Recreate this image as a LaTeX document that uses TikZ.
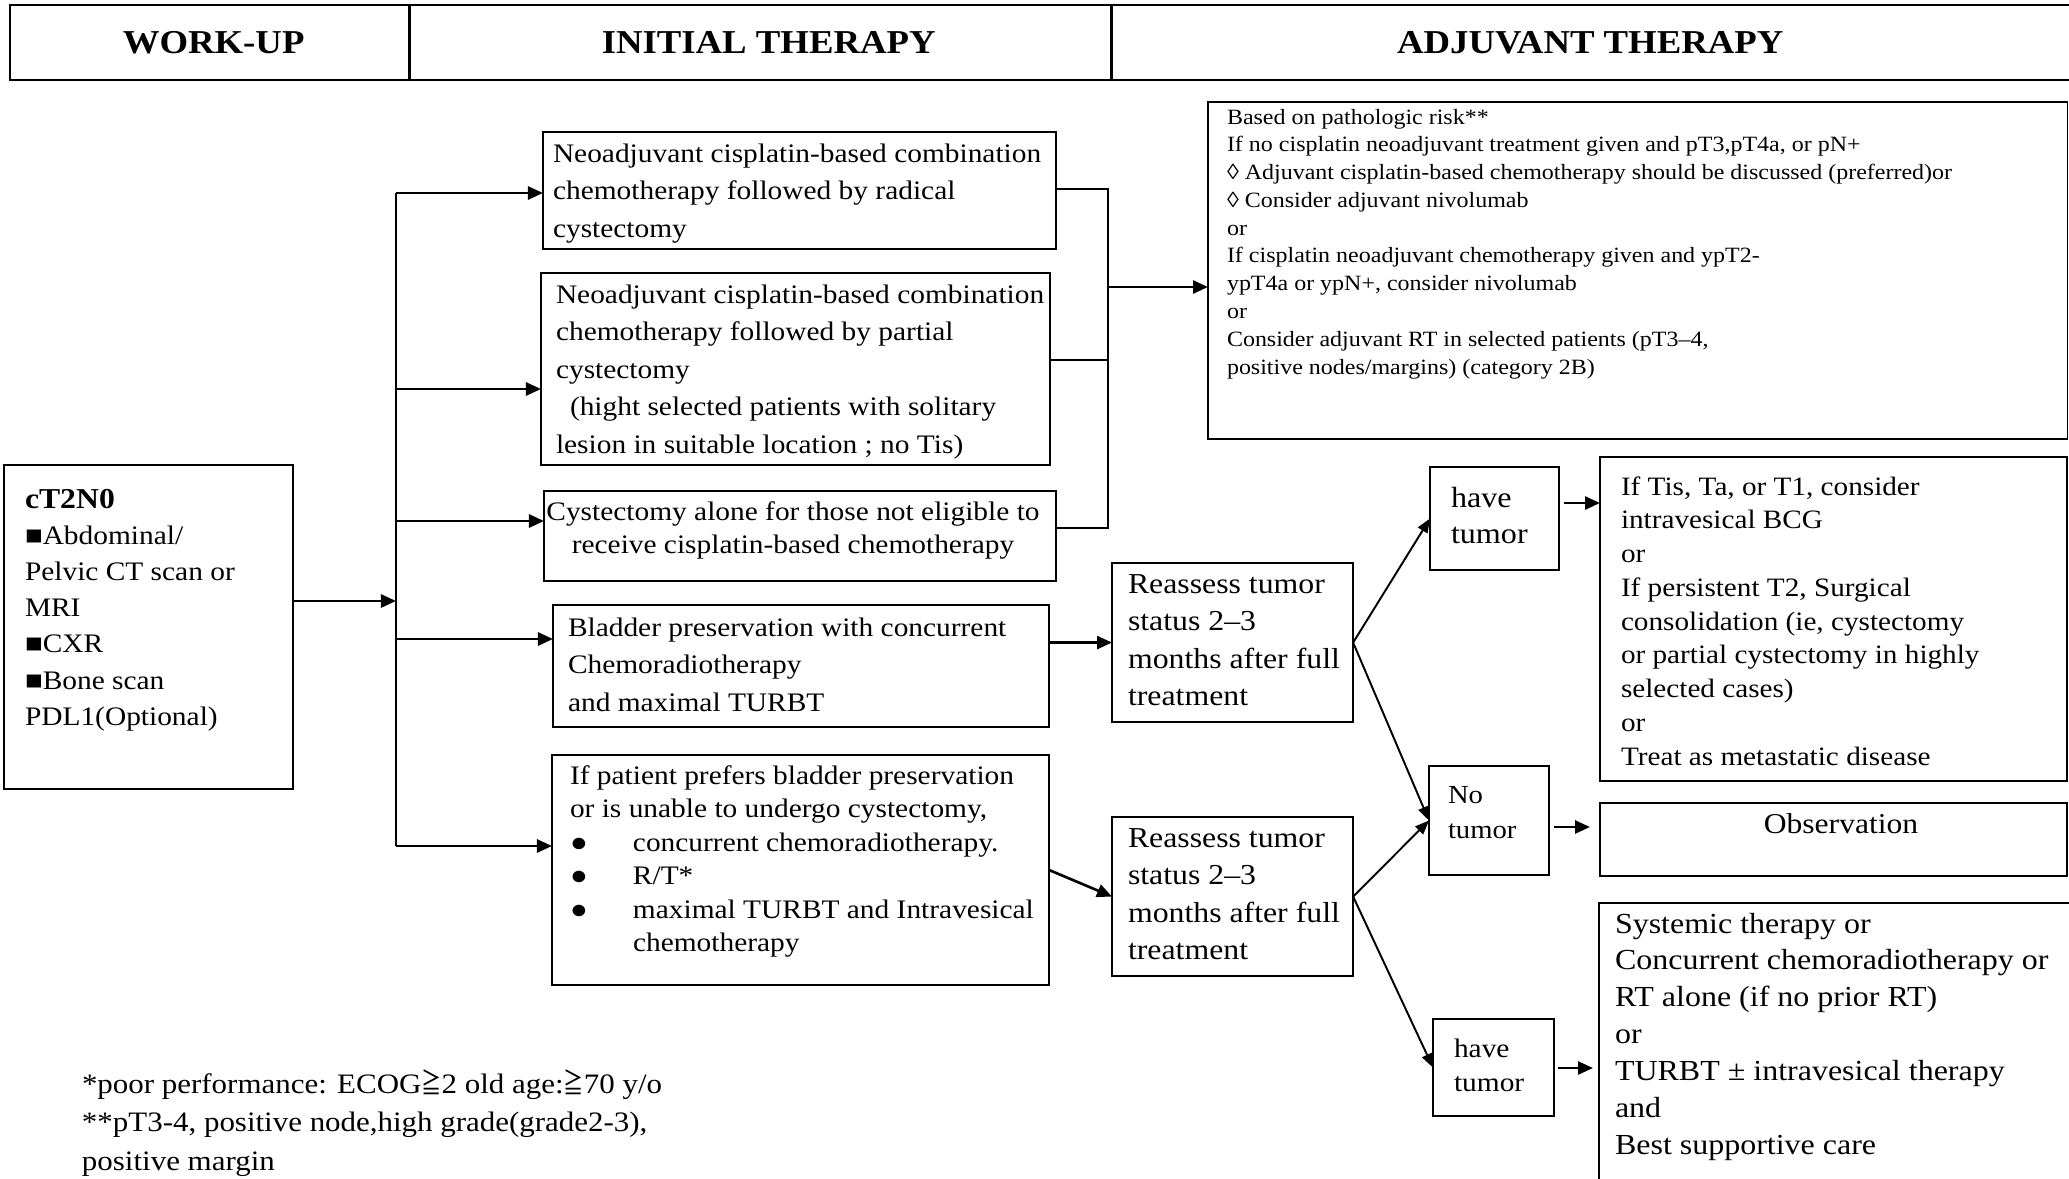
\documentclass[tikz,border=0pt]{standalone}
\usepackage{fontspec}
\setmainfont{Liberation Serif}[FakeStretch=1.1]
\newfontfamily\geqfont{Noto Sans CJK TC}
\usetikzlibrary{arrows.meta}
\newdimen\pxu \pxu=0.01cm
\newcommand\fs[2]{\fontsize{#1pt}{#2pt}\selectfont}
\newcommand\lines[1]{\begin{tabular}[t]{@{}l@{}}#1\end{tabular}}
\newcommand\clines[1]{\begin{tabular}[t]{@{}c@{}}#1\end{tabular}}
\newcommand\bul{\makebox[63\pxu][l]{●}}
\newcommand\geqsign{\scalebox{0.72}[1]{\geqfont ≧}}

\tikzset{
  frame/.style={draw, line width=0.55pt, inner sep=0pt, outer sep=0pt, anchor=north west},
  hdr/.style={draw, line width=0.8pt, inner sep=0pt, outer sep=0pt, anchor=north west,
              minimum height=0.75cm, font={\fs{9.5}{11}\bfseries}},
  txt/.style={inner sep=0pt, outer sep=0pt, anchor=base west},
  ctxt/.style={inner sep=0pt, outer sep=0pt, anchor=base},
  link/.style={line width=0.6pt},
  arr/.style={-{Triangle[length=0.15cm,width=0.13cm]}, line width=0.75pt},
  diag/.style={-{Triangle[length=0.14cm,width=0.11cm]}, line width=0.55pt}
}

\begin{document}
\begin{tikzpicture}[x=0.01cm, y=-0.01cm]
\fill[white] (0,0) rectangle (2069,1178);
\useasboundingbox (0,0) rectangle (2069,1178);

% column headings
\node[hdr, minimum width=3.99cm] (hw) at (10,5) {\hspace*{8\pxu}WORK-UP};
\node[hdr, minimum width=7.02cm] (hi) at (409,5) {\hspace*{17\pxu}INITIAL THERAPY};
\node[hdr, minimum width=9.64cm] (ha) at (1111,5) {ADJUVANT THERAPY\hspace*{6\pxu}};

% frames
\node[frame, minimum width=2.89cm, minimum height=3.24cm] (W)   at (4,465) {};
\node[frame, minimum width=5.13cm, minimum height=1.17cm] (A)   at (543,132) {};
\node[frame, minimum width=5.09cm, minimum height=1.92cm] (B)   at (541,273) {};
\node[frame, minimum width=5.12cm, minimum height=0.90cm] (C)   at (544,491) {};
\node[frame, minimum width=4.96cm, minimum height=1.22cm] (D)   at (553,605) {};
\node[frame, minimum width=4.97cm, minimum height=2.30cm] (E)   at (552,755) {};
\node[frame, minimum width=8.59cm, minimum height=3.37cm] (Adj) at (1208,102) {};
\node[frame, minimum width=2.41cm, minimum height=1.59cm] (R1)  at (1112,563) {};
\node[frame, minimum width=2.41cm, minimum height=1.59cm] (R2)  at (1112,817) {};
\node[frame, minimum width=1.29cm, minimum height=1.03cm] (H1)  at (1430,467) {};
\node[frame, minimum width=1.20cm, minimum height=1.09cm] (N)   at (1429,766) {};
\node[frame, minimum width=1.21cm, minimum height=0.97cm] (H2)  at (1433,1019) {};
\node[frame, minimum width=4.67cm, minimum height=3.24cm] (T1)  at (1600,457) {};
\node[frame, minimum width=4.67cm, minimum height=0.73cm] (Obs) at (1600,803) {};
\node[frame, minimum width=4.76cm, minimum height=2.90cm] (Sys) at (1599,903) {};

% texts
\node[txt, font=\fs{7.6}{10.3}] (Wt) at (25,508) {\lines{%
  {\fs{8.2}{10.3}\bfseries cT2N0}\\
  ■Abdominal/\\
  Pelvic CT scan or\\
  MRI\\
  ■CXR\\
  ■Bone scan\\
  PDL1(Optional)}};

\node[txt, font=\fs{7.6}{10.7}] (At) at (553,162) {\lines{%
  Neoadjuvant cisplatin-based combination\\
  chemotherapy followed by radical\\
  cystectomy}};

\node[txt, font=\fs{7.6}{10.7}] (Bt) at (556,303) {\lines{%
  Neoadjuvant cisplatin-based combination\\
  chemotherapy followed by partial\\
  cystectomy\\
  \hspace*{14\pxu}(hight selected patients with solitary\\
  lesion in suitable location ; no Tis)}};

\node[ctxt, font=\fs{7.6}{9.6}] (Ct) at (793,520) {\clines{%
  Cystectomy alone for those not eligible to\\
  receive cisplatin-based chemotherapy}};

\node[txt, font=\fs{7.6}{10.8}] (Dt) at (568,636) {\lines{%
  Bladder preservation with concurrent\\
  Chemoradiotherapy\\
  and maximal TURBT}};

\node[txt, font=\fs{7.6}{9.55}] (Et) at (570,784) {\lines{%
  If patient prefers bladder preservation\\
  or is unable to undergo cystectomy,\\
  \bul concurrent chemoradiotherapy.\\
  \bul R/T*\\
  \bul maximal TURBT and Intravesical\\
  \hspace*{63\pxu}chemotherapy}};

\node[txt, font=\fs{6.2}{7.9}] (Adjt) at (1227,124) {\lines{%
  Based on pathologic risk**\\
  If no cisplatin neoadjuvant treatment given and pT3,pT4a, or pN+\\
  ◊ Adjuvant cisplatin-based chemotherapy should be discussed (preferred)or\\
  ◊ Consider adjuvant nivolumab\\
  or\\
  If cisplatin neoadjuvant chemotherapy given and ypT2-\\
  ypT4a or ypN+, consider nivolumab\\
  or\\
  Consider adjuvant RT in selected patients (pT3–4,\\
  positive nodes/margins) (category 2B)}};

\node[txt, font=\fs{8.22}{10.7}] (R1t) at (1128,593) {\lines{%
  Reassess tumor\\ status 2–3\\ months after full\\ treatment}};
\node[txt, font=\fs{8.22}{10.7}] (R2t) at (1128,847) {\lines{%
  Reassess tumor\\ status 2–3\\ months after full\\ treatment}};

\node[txt, font=\fs{8.3}{10.4}] (H1t) at (1451,507) {\lines{have\\ tumor}};
\node[txt, font=\fs{7.4}{10}]    (Nt)  at (1448,803) {\lines{No\\ tumor}};
\node[txt, font=\fs{7.6}{9.7}]   (H2t) at (1454,1057) {\lines{have\\ tumor}};

\node[txt, font=\fs{7.55}{9.6}] (T1t) at (1621,495) {\lines{%
  If Tis, Ta, or T1, consider\\
  intravesical BCG\\
  or\\
  If persistent T2, Surgical\\
  consolidation (ie, cystectomy\\
  or partial cystectomy in highly\\
  selected cases)\\
  or\\
  Treat as metastatic disease}};

\node[ctxt, font=\fs{8.17}{10}] (Obst) at (1841,833) {Observation};

\node[txt, font=\fs{8.27}{10.5}] (Syst) at (1615,933) {\lines{%
  Systemic therapy or\\
  Concurrent chemoradiotherapy or\\
  RT alone (if no prior RT)\\
  or\\
  TURBT ± intravesical therapy\\
  and\\
  Best supportive care}};

\node[txt, font=\fs{8.0}{10.95}] (fn) at (82,1093) {\lines{%
  *poor performance: ECOG\geqsign 2 old age:\geqsign 70 y/o\\{}%
  **pT3-4, positive node,high grade(grade2-3),\\
  positive margin}};

% trunk from the work-up box to the initial therapies
\coordinate (tk) at (396,601);
\coordinate (tA) at (396,193);
\coordinate (tB) at (396,389);
\coordinate (tC) at (396,521);
\coordinate (tD) at (396,639);
\coordinate (tE) at (396,846);
\draw[arr] (W.east |- tk) -- (tk);
\draw[link] (tA) -- (tE);
\foreach \b/\t in {A/tA,B/tB,C/tC,D/tD,E/tE}
  \draw[arr] (\t) -- (\t -| \b.west);

% bracket joining the surgical options to adjuvant therapy
\coordinate (bA) at (1108,189);
\coordinate (bB) at (1108,360);
\coordinate (bC) at (1108,528);
\coordinate (bM) at (1108,287);
\draw[link] (bA -| A.east) -- (bA) -- (bC) -- (bC -| C.east);
\draw[link] (bB -| B.east) -- (bB);
\draw[arr] (bM) -- (bM -| Adj.west);

% bladder preservation pathways
\draw[arr] (D.east |- R1.west) -- (R1.west);
\draw[arr] (E.east) -- (R2.west);
\draw[diag] (R1.east) -- (H1.west);
\draw[diag] (R1.east) -- (N.west);
\draw[diag] (R2.east) -- (N.west);
\draw[diag] (R2.east) -- (H2.west);

% outcomes
\coordinate (h1o) at (1564,503);
\coordinate (no)  at (1554,827);
\coordinate (h2o) at (1558,1068);
\draw[arr] (h1o) -- (h1o -| T1.west);
\draw[arr, shorten >=0.1cm] (no) -- (no -| Obs.west);
\draw[arr, shorten >=0.06cm] (h2o) -- (h2o -| Sys.west);
\end{tikzpicture}
\end{document}
